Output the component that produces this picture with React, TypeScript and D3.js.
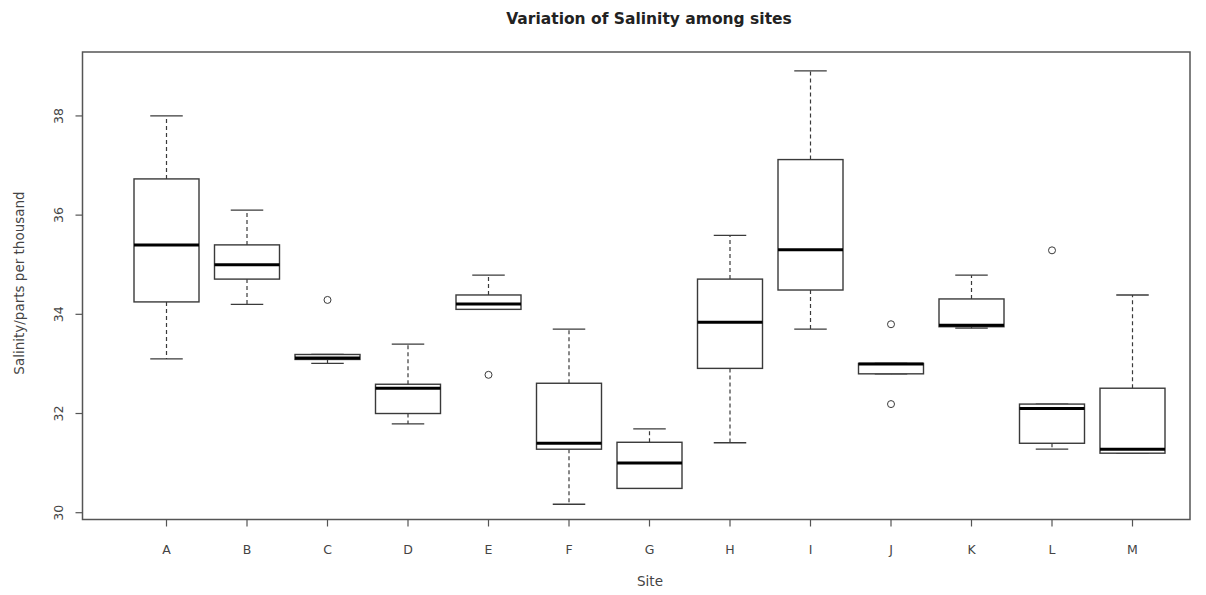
import React from "react";
import * as d3 from "d3";

const sites = ["A", "B", "C", "D", "E", "F", "G", "H", "I", "J", "K", "L", "M"];
const whiskerLow = [33.1, 34.2, 33.01, 31.79, 34.1, 30.17, 30.49, 31.41, 33.7, 32.8, 33.72, 31.28, 31.2];
const q1 = [34.25, 34.71, 33.09, 32.0, 34.1, 31.28, 30.49, 32.91, 34.49, 32.8, 33.75, 31.4, 31.2];
const median = [35.4, 35.0, 33.12, 32.51, 34.21, 31.4, 31.0, 33.84, 35.3, 33.0, 33.78, 32.1, 31.28];
const q3 = [36.73, 35.4, 33.19, 32.59, 34.39, 32.61, 31.42, 34.71, 37.12, 33.01, 34.31, 32.19, 32.51];
const whiskerHigh = [38.0, 36.1, 33.19, 33.4, 34.79, 33.7, 31.69, 35.59, 38.91, 33.01, 34.79, 32.19, 34.39];
const outlierSite = ["C", "E", "J", "J", "L"];
const outlierValue = [34.29, 32.78, 33.8, 32.19, 35.29];
const yTicks = [30, 32, 34, 36, 38];

const W = 1206;
const H = 595;
const frame = { left: 82.5, right: 1190, top: 52, bottom: 519.5 };

export default function App() {
  const y = d3.scaleLinear().domain([29.863, 39.289]).range([frame.bottom, frame.top]);
  const x = d3.scalePoint<string>().domain(sites).range([166.5, 1132.5]);
  const boxW = 65;
  const lineCol = "#3a3a3a";
  const textCol = "#444";
  const font = "DejaVu Sans, Verdana, sans-serif";

  return (
    <svg width={W} height={H} style={{ position: "absolute", left: 0, top: 0, background: "#fff" }} fontFamily={font}>
      <rect x={0} y={0} width={W} height={H} fill="#fff" />
      <text x={649} y={24} textAnchor="middle" fontSize={15.5} fontWeight="bold" fill="#222">
        Variation of Salinity among sites
      </text>
      <rect x={frame.left} y={frame.top} width={frame.right - frame.left} height={frame.bottom - frame.top}
        fill="none" stroke="#555" strokeWidth={1.5} />
      {yTicks.map((t) => (
        <g key={t}>
          <line x1={frame.left - 7} x2={frame.left} y1={y(t)} y2={y(t)} stroke="#555" strokeWidth={1.2} />
          <text transform={`translate(${frame.left - 20},${y(t)}) rotate(-90)`} textAnchor="middle"
            fontSize={12.5} fill={textCol}>{t}</text>
        </g>
      ))}
      {sites.map((s) => (
        <g key={s}>
          <line x1={x(s)} x2={x(s)} y1={frame.bottom} y2={frame.bottom + 7} stroke="#555" strokeWidth={1.2} />
          <text x={x(s)} y={frame.bottom + 34} textAnchor="middle" fontSize={12.5} fill={textCol}>{s}</text>
        </g>
      ))}
      <text x={650} y={586} textAnchor="middle" fontSize={13.5} fill={textCol}>Site</text>
      <text transform={`translate(24,283) rotate(-90)`} textAnchor="middle" fontSize={13.5} fill={textCol}>
        Salinity/parts per thousand
      </text>
      {sites.map((s, i) => {
        const cx = x(s) as number;
        return (
          <g key={s}>
            <line x1={cx} x2={cx} y1={y(q3[i])} y2={y(whiskerHigh[i])} stroke={lineCol} strokeWidth={1.2} strokeDasharray="4,3" />
            <line x1={cx} x2={cx} y1={y(q1[i])} y2={y(whiskerLow[i])} stroke={lineCol} strokeWidth={1.2} strokeDasharray="4,3" />
            <line x1={cx - boxW / 4} x2={cx + boxW / 4} y1={y(whiskerHigh[i])} y2={y(whiskerHigh[i])} stroke={lineCol} strokeWidth={1.3} />
            <line x1={cx - boxW / 4} x2={cx + boxW / 4} y1={y(whiskerLow[i])} y2={y(whiskerLow[i])} stroke={lineCol} strokeWidth={1.3} />
            <rect x={cx - boxW / 2} y={y(q3[i])} width={boxW} height={Math.max(0, y(q1[i]) - y(q3[i]))}
              fill="#fff" stroke={lineCol} strokeWidth={1.4} />
            <line x1={cx - boxW / 2} x2={cx + boxW / 2} y1={y(median[i])} y2={y(median[i])} stroke="#000" strokeWidth={3} />
          </g>
        );
      })}
      {outlierSite.map((s, i) => (
        <circle key={i} cx={x(s) as number} cy={y(outlierValue[i])} r={3.5} fill="none" stroke={lineCol} strokeWidth={1} />
      ))}
    </svg>
  );
}
